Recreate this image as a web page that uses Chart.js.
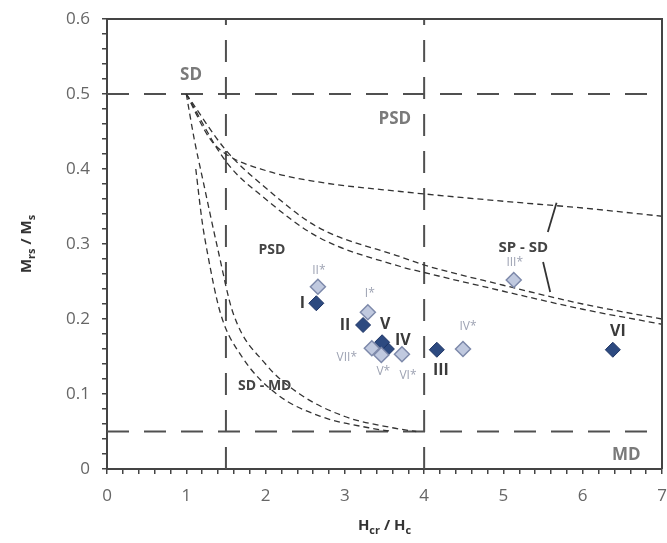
<!DOCTYPE html>
<html>
<head>
<meta charset="utf-8">
<script src="https://cdn.jsdelivr.net/npm/chart.js@4.4.1/dist/chart.umd.min.js"></script>
<style>
  html, body { margin: 0; padding: 0; background: #fff; }
  #wrap { width: 667px; height: 543px; }
</style>
</head>
<body>
<div id="wrap"><canvas id="chart"></canvas></div>
<script>
// samples (dark markers)
const sampleNames = ['I', 'II', 'III', 'IV', 'V', 'VI'];
const sampleX = [2.64, 3.23, 4.16, 3.53, 3.47, 6.38];
const sampleY = [0.221, 0.192, 0.159, 0.160, 0.169, 0.159];

// starred samples (light markers)
const starNames = ['I*', 'II*', 'III*', 'IV*', 'V*', 'VI*', 'VII*'];
const starX = [3.29, 2.66, 5.13, 4.49, 3.46, 3.72, 3.34];
const starY = [0.209, 0.243, 0.252, 0.160, 0.152, 0.153, 0.161];

// region limits
const sdLimit = 0.5;
const mdLimit = 0.05;
const hLow = 1.5;
const hHigh = 4;

// model curves (short dashes)
const topCurveX = [1, 1.3, 1.5, 2, 2.65, 3.7, 5, 6, 7];
const topCurveY = [0.5, 0.44, 0.42, 0.398, 0.383, 0.37, 0.357, 0.348, 0.337];
const midCurveX = [1, 1.5, 2, 2.65, 3.7, 4, 5, 6, 7];
const midCurveY1 = [0.5, 0.425, 0.375, 0.323, 0.283, 0.272, 0.245, 0.22, 0.2];
const midCurveY2 = [0.5, 0.41, 0.36, 0.31, 0.27, 0.262, 0.237, 0.213, 0.193];
const mdCurveX1 = [1.12, 1.2, 1.26, 1.43, 1.7, 2.14, 2.7, 3.3, 3.6];
const mdCurveY1 = [0.4, 0.33, 0.292, 0.208, 0.15, 0.10, 0.07, 0.055, 0.05];
const mdCurveX2 = [1, 1.1, 1.21, 1.4, 1.59, 2, 2.43, 3, 3.6, 3.9];
const mdCurveY2 = [0.5, 0.44, 0.385, 0.292, 0.208, 0.14, 0.10, 0.07, 0.055, 0.05];

// leader lines for the SP - SD label
const leaderTopX = [5.67, 5.56];
const leaderTopY = [0.355, 0.316];
const leaderBotX = [5.5, 5.59];
const leaderBotY = [0.276, 0.236];

const xMin = 0, xMax = 7;
const yMin = 0, yMax = 0.6;

const toPoints = (xs, ys) => xs.map((v, i) => ({ x: v, y: ys[i] }));

// label offsets in pixels from the marker
const sampleLabelOffset = {
    'I': [-14, 0], 'II': [-18, 0], 'III': [4, 21], 'IV': [16, -9], 'V': [3, -18], 'VI': [5, -18]
};
const starLabelOffset = {
    'I*': [2, -19], 'II*': [1, -16], 'III*': [1, -17], 'IV*': [5, -22],
    'V*': [2, 17], 'VI*': [6, 21], 'VII*': [-25, 9]
};

const regionLabels = [
    { text: 'SD', x: 1.06, y: 0.525, color: '#7a7a7a', size: 17 },
    { text: 'PSD', x: 3.63, y: 0.467, color: '#7a7a7a', size: 17 },
    { text: 'PSD', x: 2.08, y: 0.292, color: '#444', size: 14 },
    { text: 'SD - MD', x: 1.99, y: 0.111, color: '#444', size: 14 },
    { text: 'SP - SD', x: 5.25, y: 0.295, color: '#444', size: 15 },
    { text: 'MD', x: 6.55, y: 0.019, color: '#7a7a7a', size: 17 }
];

function limitLine(points) {
    return {
        type: 'scatter',
        data: points,
        showLine: true,
        borderColor: '#505050',
        borderWidth: 2,
        borderDash: [22, 15],
        pointRadius: 0,
        order: 5
    };
}

function curveLine(xs, ys) {
    return {
        type: 'scatter',
        data: toPoints(xs, ys),
        showLine: true,
        borderColor: '#333',
        borderWidth: 1.3,
        borderDash: [6, 4],
        cubicInterpolationMode: 'monotone',
        pointRadius: 0,
        order: 4
    };
}

function leaderLine(xs, ys) {
    return {
        type: 'scatter',
        data: toPoints(xs, ys),
        showLine: true,
        borderColor: '#333',
        borderWidth: 1.8,
        pointRadius: 0,
        order: 4
    };
}

function drawSubText(ctx, parts, cx, cy, size) {
    const subSize = Math.round(size * 0.72);
    let total = 0;
    parts.forEach(p => {
        ctx.font = 'bold ' + (p[1] ? subSize : size) + 'px "Open Sans", sans-serif';
        total += ctx.measureText(p[0]).width;
    });
    let x = cx - total / 2;
    ctx.textAlign = 'left';
    ctx.textBaseline = 'middle';
    parts.forEach(p => {
        ctx.font = 'bold ' + (p[1] ? subSize : size) + 'px "Open Sans", sans-serif';
        ctx.fillText(p[0], x, p[1] ? cy + size * 0.3 : cy);
        x += ctx.measureText(p[0]).width;
    });
}

const annotations = {
    id: 'annotations',
    afterDatasetsDraw(chart) {
        const { ctx, chartArea, scales } = chart;
        const x = scales.x, y = scales.y;
        ctx.save();

        // plot frame (top and right)
        ctx.strokeStyle = '#444';
        ctx.lineWidth = 2;
        ctx.beginPath();
        ctx.moveTo(chartArea.left, chartArea.top);
        ctx.lineTo(chartArea.right, chartArea.top);
        ctx.lineTo(chartArea.right, chartArea.bottom);
        ctx.stroke();

        ctx.textAlign = 'center';
        ctx.textBaseline = 'middle';

        regionLabels.forEach(l => {
            ctx.fillStyle = l.color;
            ctx.font = 'bold ' + l.size + 'px "Open Sans", sans-serif';
            ctx.fillText(l.text, x.getPixelForValue(l.x), y.getPixelForValue(l.y));
        });

        ctx.fillStyle = '#3a3a3a';
        ctx.font = 'bold 16px "Open Sans", sans-serif';
        sampleNames.forEach((n, i) => {
            const off = sampleLabelOffset[n];
            ctx.fillText(n, x.getPixelForValue(sampleX[i]) + off[0], y.getPixelForValue(sampleY[i]) + off[1]);
        });

        ctx.fillStyle = '#9ea3b3';
        ctx.font = '12px "Open Sans", sans-serif';
        starNames.forEach((n, i) => {
            const off = starLabelOffset[n];
            ctx.fillText(n, x.getPixelForValue(starX[i]) + off[0], y.getPixelForValue(starY[i]) + off[1]);
        });

        // axis titles with subscripts
        ctx.fillStyle = '#333';
        drawSubText(ctx, [['H', false], ['cr', true], [' / H', false], ['c', true]], (chartArea.left + chartArea.right) / 2, 526, 15);
        ctx.save();
        ctx.translate(27, (chartArea.top + chartArea.bottom) / 2);
        ctx.rotate(-Math.PI / 2);
        drawSubText(ctx, [['M', false], ['rs', true], [' / M', false], ['s', true]], 0, 0, 15);
        ctx.restore();

        ctx.restore();
    }
};

const isWhole = (v, step) => Math.abs(v / step - Math.round(v / step)) < 1e-6;

new Chart(document.getElementById('chart'), {
    type: 'scatter',
    data: {
        datasets: [
            limitLine([{ x: xMin, y: sdLimit }, { x: xMax, y: sdLimit }]),
            limitLine([{ x: xMin, y: mdLimit }, { x: xMax, y: mdLimit }]),
            limitLine([{ x: hLow, y: yMin }, { x: hLow, y: yMax }]),
            limitLine([{ x: hHigh, y: yMin }, { x: hHigh, y: yMax }]),
            curveLine(topCurveX, topCurveY),
            curveLine(midCurveX, midCurveY1),
            curveLine(midCurveX, midCurveY2),
            curveLine(mdCurveX1, mdCurveY1),
            curveLine(mdCurveX2, mdCurveY2),
            leaderLine(leaderTopX, leaderTopY),
            leaderLine(leaderBotX, leaderBotY),
            {
                label: 'samples',
                data: toPoints(sampleX, sampleY),
                pointStyle: 'rectRot',
                pointRadius: 7.5,
                backgroundColor: '#2d4a80',
                borderColor: '#1e3464',
                borderWidth: 1,
                order: 2
            },
            {
                label: 'starred',
                data: toPoints(starX, starY),
                pointStyle: 'rectRot',
                pointRadius: 7.5,
                backgroundColor: '#c0c9df',
                borderColor: '#7d89aa',
                borderWidth: 1.5,
                order: 1
            }
        ]
    },
    options: {
        responsive: true,
        maintainAspectRatio: false,
        animation: false,
        layout: { autoPadding: false, padding: { top: 19, right: 5, left: 0, bottom: 0 } },
        plugins: {
            legend: { display: false },
            tooltip: { enabled: false }
        },
        scales: {
            x: {
                type: 'linear',
                min: xMin,
                max: xMax,
                afterFit: s => { s.height = 74; s.paddingLeft = 0; s.paddingRight = 0; },
                border: { color: '#444', width: 2 },
                grid: { drawOnChartArea: false, tickLength: 5, color: '#444', lineWidth: 1.5 },
                ticks: {
                    stepSize: 0.2,
                    autoSkip: false,
                    maxRotation: 0,
                    padding: 12,
                    color: '#666',
                    font: { family: '"Open Sans", sans-serif', size: 17 },
                    callback: v => isWhole(v, 1) ? String(Math.round(v)) : ''
                }
            },
            y: {
                type: 'linear',
                min: yMin,
                max: yMax,
                afterFit: s => { s.width = 107; s.paddingTop = 0; s.paddingBottom = 0; },
                border: { color: '#444', width: 2 },
                grid: { drawOnChartArea: false, tickLength: 5, color: '#444', lineWidth: 1.5 },
                ticks: {
                    stepSize: 0.02,
                    autoSkip: false,
                    padding: 12,
                    color: '#666',
                    font: { family: '"Open Sans", sans-serif', size: 17 },
                    callback: v => isWhole(v, 0.1) ? (Math.round(v * 10) / 10).toString() : ''
                }
            }
        }
    },
    plugins: [annotations]
});
</script>
</body>
</html>
